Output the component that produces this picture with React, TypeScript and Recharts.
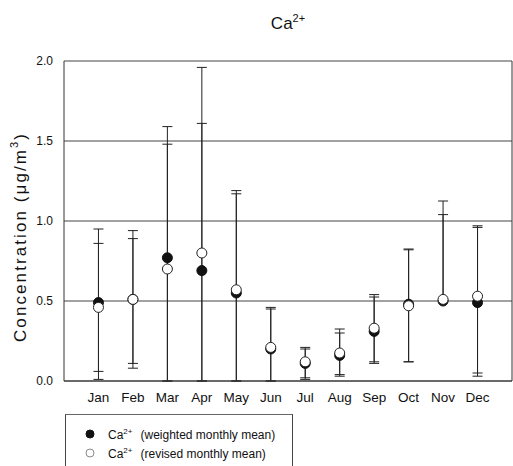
import { ScatterChart, Scatter, XAxis, YAxis, CartesianGrid, ErrorBar, ReferenceLine } from 'recharts';

const months = ['Jan', 'Feb', 'Mar', 'Apr', 'May', 'Jun', 'Jul', 'Aug', 'Sep', 'Oct', 'Nov', 'Dec'];
const weightedMean = [0.49, 0.51, 0.77, 0.69, 0.55, 0.2, 0.11, 0.16, 0.31, 0.48, 0.5, 0.49];
const revisedMean = [0.46, 0.51, 0.7, 0.8, 0.57, 0.21, 0.12, 0.175, 0.33, 0.47, 0.51, 0.53];
const weightedLow = [0.01, 0.08, 0.0, 0.0, 0.0, 0.0, 0.01, 0.03, 0.12, 0.12, 0.5, 0.03];
const weightedHigh = [0.95, 0.94, 1.59, 1.96, 1.19, 0.46, 0.21, 0.325, 0.54, 0.825, 1.125, 0.97];
const revisedLow = [0.06, 0.11, 0.0, 0.0, 0.0, 0.0, 0.02, 0.04, 0.11, 0.12, 0.51, 0.05];
const revisedHigh = [0.86, 0.89, 1.48, 1.61, 1.17, 0.45, 0.2, 0.3, 0.525, 0.82, 1.04, 0.96];
const yTicks = [0, 0.5, 1.0, 1.5, 2.0];

const weightedData = months.map((m, i) => ({
  x: i + 1,
  y: weightedMean[i],
  err: [weightedMean[i] - weightedLow[i], weightedHigh[i] - weightedMean[i]],
}));
const revisedData = months.map((m, i) => ({
  x: i + 1,
  y: revisedMean[i],
  err: [revisedMean[i] - revisedLow[i], revisedHigh[i] - revisedMean[i]],
}));

const FONT = '"Liberation Sans", Arial, Helvetica, sans-serif';

const FilledDot = (props: any) => <circle cx={props.cx} cy={props.cy} r={5} fill="#111" stroke="#111" />;
const OpenDot = (props: any) => <circle cx={props.cx} cy={props.cy} r={5} fill="#fff" stroke="#222" strokeWidth={1} />;

function YLabel(props: any) {
  const { viewBox } = props;
  const cy = viewBox.y + viewBox.height / 2 + 17;
  return (
    <text
      x={20}
      y={cy}
      transform={`rotate(-90, 20, ${cy})`}
      textAnchor="middle"
      dominantBaseline="central"
      fontSize={17}
      fontFamily={FONT}
      fill="#111"
      textLength={208}
      lengthAdjust="spacing"
    >
      Concentration (μg/m
      <tspan dy={-6} fontSize={11}>3</tspan>
      <tspan dy={6}>)</tspan>
    </text>
  );
}

export default function App() {
  return (
    <div style={{ position: 'absolute', left: 0, top: 0, width: 513, height: 466, background: '#fff', fontFamily: FONT }}>
      <div style={{ position: 'absolute', left: 0, width: 576, top: 12, textAlign: 'center', fontSize: 17, color: '#111' }}>
        Ca<sup style={{ fontSize: 11 }}>2+</sup>
      </div>
      <ScatterChart width={513} height={466} margin={{ top: 61, right: 1, bottom: 55, left: 0 }}>
        <CartesianGrid vertical={false} stroke="#444" />
        <XAxis
          type="number"
          dataKey="x"
          domain={[0, 13]}
          ticks={[1, 2, 3, 4, 5, 6, 7, 8, 9, 10, 11, 12]}
          tickFormatter={(v: number) => months[v - 1]}
          height={30}
          tickLine={false}
          tickSize={0}
          tickMargin={11}
          stroke="#333"
          tick={{ fill: '#111', fontSize: 13.5, fontFamily: FONT }}
        />
        <YAxis
          type="number"
          dataKey="y"
          domain={[0, 2]}
          ticks={yTicks}
          tickFormatter={(v: number) => v.toFixed(1)}
          width={64}
          tickLine={false}
          tickSize={0}
          tickMargin={11}
          stroke="#333"
          tick={{ fill: '#111', fontSize: 12, fontFamily: FONT }}
          label={<YLabel />}
        />
        <ReferenceLine x={13} stroke="#333" />
        <Scatter data={weightedData} shape={<FilledDot />} isAnimationActive={false}>
          <ErrorBar dataKey="err" direction="y" width={5} stroke="#222" strokeWidth={1} />
        </Scatter>
        <Scatter data={revisedData} shape={<OpenDot />} isAnimationActive={false}>
          <ErrorBar dataKey="err" direction="y" width={5} stroke="#222" strokeWidth={1} />
        </Scatter>
      </ScatterChart>
      <div
        style={{
          position: 'absolute',
          left: 65,
          top: 414,
          width: 226,
          height: 60,
          borderLeft: '1px solid #444',
          borderTop: '1px solid #666',
          borderRight: '1px solid #444',
          fontSize: 12,
          color: '#111',
        }}
      >
        {[
          { label: '(weighted monthly mean)', filled: true },
          { label: '(revised monthly mean)', filled: false },
        ].map((row, i) => (
          <div key={i} style={{ position: 'absolute', left: 18, top: 11 + i * 19, height: 16, display: 'flex', alignItems: 'center', whiteSpace: 'nowrap' }}>
            <svg width={12} height={12} style={{ marginRight: 12 }}>
              <circle cx={6} cy={6} r={4} fill={row.filled ? '#111' : '#fff'} stroke={row.filled ? '#111' : '#888'} />
            </svg>
            <span>
              Ca<sup style={{ fontSize: 8 }}>2+</sup>
              <span style={{ marginLeft: 8 }}>{row.label}</span>
            </span>
          </div>
        ))}
      </div>
    </div>
  );
}
